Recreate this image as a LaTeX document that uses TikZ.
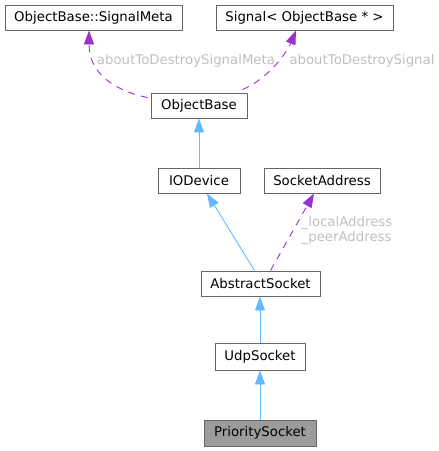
\documentclass[tikz,border=0pt]{standalone}
\usepackage{fontspec}
\setmainfont{DejaVu Sans}
\usepackage{xcolor}
\usepackage{tikz}
\usetikzlibrary{arrows.meta,positioning}

\definecolor{edgeblue}{HTML}{63B8FF}
\definecolor{edgepurple}{HTML}{9A32CD}
\definecolor{lblgray}{HTML}{BFBFBF}
\definecolor{boxgray}{HTML}{666666}

\begin{document}
\begin{tikzpicture}[x=1pt,y=-1pt]

        \tikzstyle{classbox}=[draw=boxgray,line width=0.9pt,fill=white,minimum height=25pt,inner xsep=5pt,font=\fontsize{13.3}{15}\selectfont]
        \tikzstyle{inherit}=[draw=edgeblue,line width=0.9pt,-{Triangle[width=10pt,length=14pt]}]
        \tikzstyle{usage}=[draw=edgepurple,line width=0.9pt,dash pattern=on 7pt off 6pt,-{Triangle[width=10pt,length=14pt]}]
        \tikzstyle{edgelbl}=[text=lblgray,inner sep=0pt,font=\fontsize{13.3}{15}\selectfont]

        \useasboundingbox (0,0) rectangle (439,451);

        %% Class boxes
        \node[classbox,minimum width=177pt] (signalmeta) at (93.5,17.5) {ObjectBase::SignalMeta};
        \node[classbox,minimum width=177pt] (signal) at (304.5,17.5) {Signal< ObjectBase * >};
        \node[classbox,minimum width=96pt] (objectbase) at (199,105.5) {ObjectBase};
        \node[classbox,minimum width=82pt] (iodevice) at (199,180.5) {IODevice};
        \node[classbox,minimum width=116pt] (sockaddr) at (322,180.5) {SocketAddress};
        \node[classbox,minimum width=119pt] (abstractsock) at (260.5,283.5) {AbstractSocket};
        \node[classbox,minimum width=90pt,minimum height=27pt] (udpsock) at (260,356.5) {UdpSocket};
        \node[classbox,minimum width=112pt,minimum height=26pt,fill=boxgray!65] (prioritysock) at (260,433) {PrioritySocket};

        %% Inheritance
        \draw[inherit] (iodevice) -- (objectbase);
        \draw[inherit] ([xshift=-6pt]abstractsock.north) -- ([xshift=8pt]iodevice.south);
        \draw[inherit] (udpsock.north) -- (udpsock.north |- abstractsock.south);
        \draw[inherit] (prioritysock) -- (udpsock);

        %% Members
        \draw[usage] ([xshift=-3pt,yshift=-5pt]objectbase.north west) .. controls (112,90) and (89,72) .. ([xshift=-4.5pt]signalmeta.south);
        \draw[usage] ([xshift=-5pt,yshift=3pt]objectbase.north east) .. controls (270,78) and (288,50) .. ([xshift=-8.5pt]signal.south);
        \draw[usage] ([xshift=10pt]abstractsock.north) -- ([xshift=-8pt]sockaddr.south);

        %% Member names
        \node[edgelbl] (lblmeta) at (186,61) {aboutToDestroySignalMeta};
        \node[edgelbl] (lblsignal) at (362,61) {aboutToDestroySignal};
        \node[edgelbl,align=left] (lbladdr) at (347,231) {\_localAddress\\\_peerAddress};

\end{tikzpicture}
\end{document}
